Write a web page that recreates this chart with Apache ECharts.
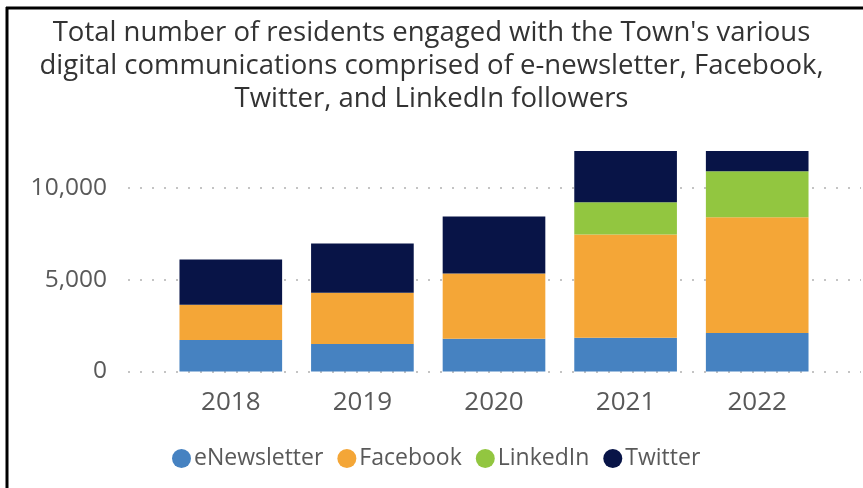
<!DOCTYPE html>
<html>
<head>
<meta charset="utf-8">
<script src="https://cdn.jsdelivr.net/npm/echarts@6/dist/echarts.min.js"></script>
<style>
html,body{margin:0;padding:0;background:#fff;}
#chart{width:863px;height:488px;}
</style>
</head>
<body>
<div id="chart"></div>
<script>
var titleText = "Total number of residents engaged with the Town's various\ndigital communications comprised of e-newsletter, Facebook,\nTwitter, and LinkedIn followers";
var years = ["2018", "2019", "2020", "2021", "2022"];
var eNewsletter = [1720, 1500, 1780, 1830, 2100];
var facebook = [1910, 2790, 3550, 5630, 6290];
var linkedIn = [0, 0, 0, 1750, 2510];
var twitter = [2460, 2680, 3110, 3300, 3500];
var yTicks = { min: 0, max: 12000, interval: 5000 };

var FONT = "Open Sans";
var LABEL = "#595959";
var chart = echarts.init(document.getElementById('chart'), null, { renderer: 'canvas' });

function bar(name, data, color) {
  return {
    name: name, type: 'bar', stack: 'total', data: data,
    xAxisIndex: 1, yAxisIndex: 1,
    barCategoryGap: '22%', clip: true,
    itemStyle: { color: color },
    emphasis: { disabled: true }
  };
}

chart.setOption({
  animation: false,
  backgroundColor: '#fff',
  textStyle: { fontFamily: FONT },
  title: {
    text: titleText,
    left: 'center', top: 12,
    textStyle: { fontFamily: FONT, fontSize: 27.5, fontWeight: 'normal', color: '#333', lineHeight: 33 }
  },
  legend: {
    data: ['eNewsletter', 'Facebook', 'LinkedIn', 'Twitter'],
    bottom: 13, left: 167,
    icon: 'circle', itemWidth: 19, itemHeight: 19, itemGap: 14,
    textStyle: { fontFamily: FONT, fontSize: 23, color: LABEL, padding: [0, 0, 0, -2] }
  },
  grid: [
    { left: 128, right: 2, top: 151, bottom: 116.5, containLabel: false },
    { left: 165, right: 40, top: 151, bottom: 116.5, containLabel: false }
  ],
  xAxis: [
    { gridIndex: 0, type: 'value', show: false, min: 0, max: 1 },
    {
      gridIndex: 1, type: 'category', data: years,
      axisLine: { show: false }, axisTick: { show: false },
      axisLabel: { fontFamily: FONT, fontSize: 26, color: LABEL, margin: 18 }
    }
  ],
  yAxis: [
    {
      gridIndex: 0, type: 'value', min: yTicks.min, max: yTicks.max, interval: yTicks.interval,
      axisLine: { show: false }, axisTick: { show: false },
      axisLabel: {
        fontFamily: FONT, fontSize: 24.5, color: LABEL, margin: 21, showMaxLabel: false,
        formatter: function (v) { return v === yTicks.max ? '' : v.toLocaleString('en-US'); }
      },
      splitLine: { show: true, showMaxLine: false, lineStyle: { color: '#C4C4C4', width: 2, type: [2, 10] } }
    },
    {
      gridIndex: 1, type: 'value', min: yTicks.min, max: yTicks.max, interval: yTicks.interval,
      show: false, splitLine: { show: false }
    }
  ],
  series: [
    bar('eNewsletter', eNewsletter, '#4682C1'),
    bar('Facebook', facebook, '#F4A637'),
    bar('LinkedIn', linkedIn, '#92C640'),
    bar('Twitter', twitter, '#081447')
  ],
  graphic: [
    { type: 'line', shape: { x1: 7, y1: 7, x2: 7, y2: 488 }, style: { stroke: '#000', lineWidth: 3 }, z: 100 },
    { type: 'line', shape: { x1: 6, y1: 8, x2: 863, y2: 8 }, style: { stroke: '#000', lineWidth: 3 }, z: 100 }
  ]
});
</script>
</body>
</html>
